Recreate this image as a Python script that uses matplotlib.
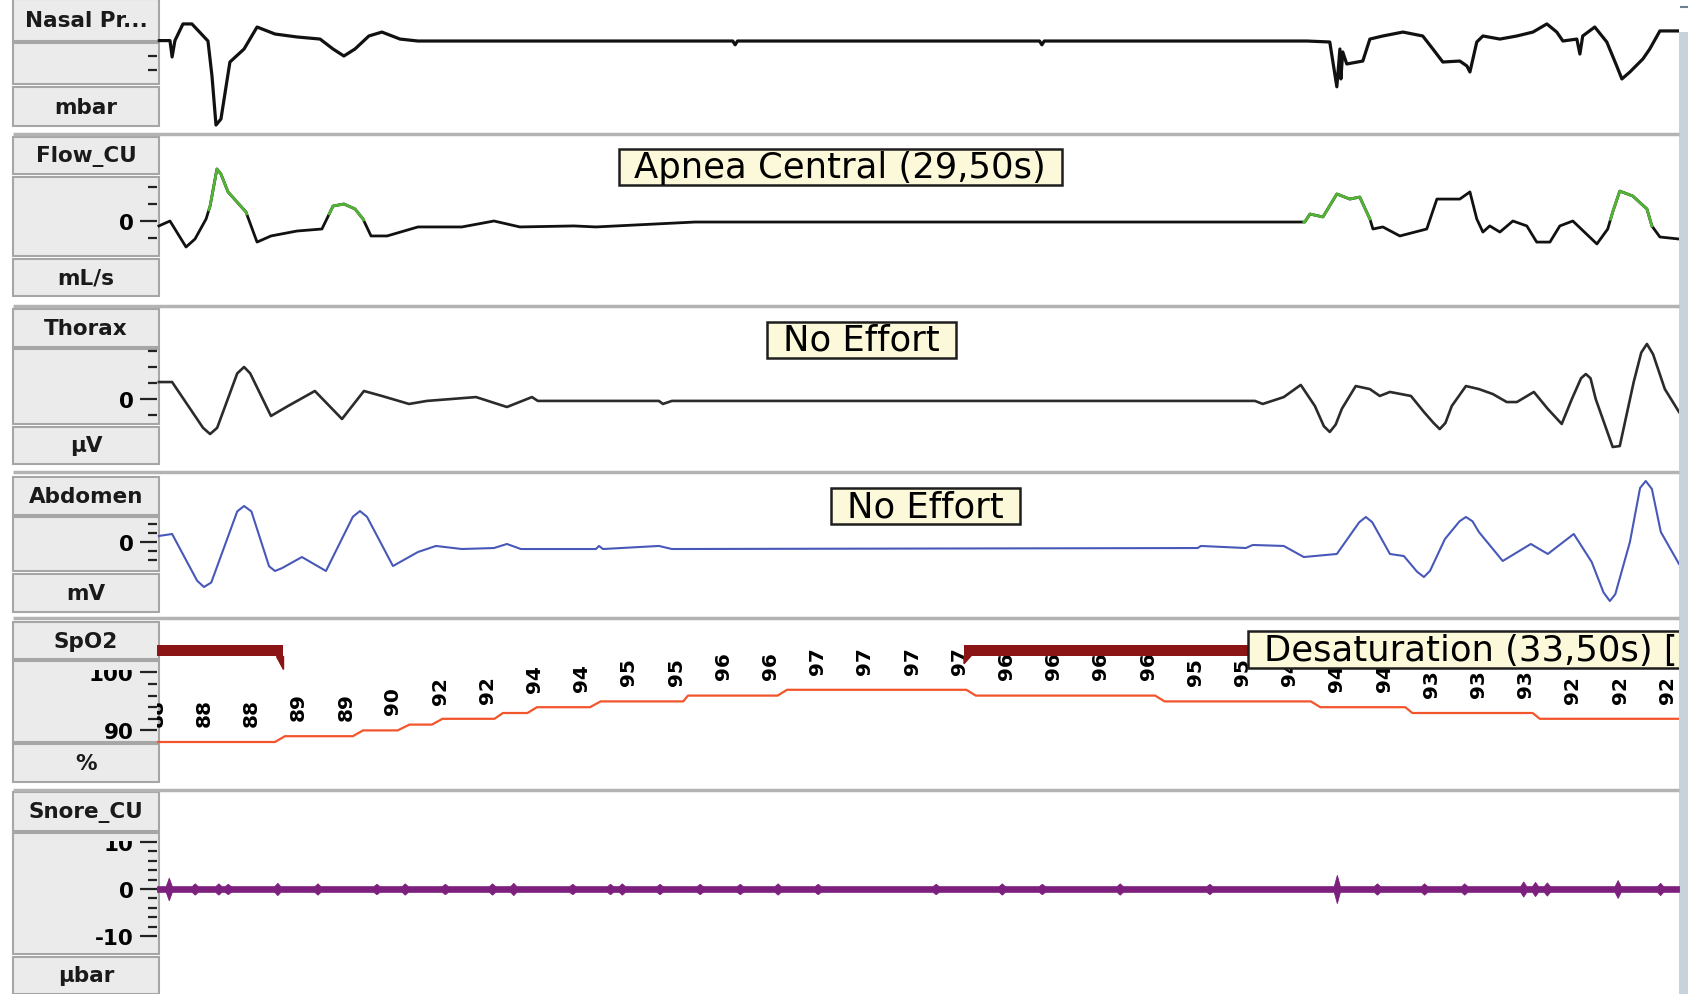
import numpy as np
import matplotlib
matplotlib.use('Agg')
import matplotlib.pyplot as plt
from matplotlib.patches import Rectangle
from matplotlib.path import Path
from matplotlib.transforms import Bbox

plt.rcParams['font.family'] = ['DejaVu Sans']

# ---- signal data (time in s inside the 64.5 s page) ----
nasal_t = [0.1, 0.55, 0.64, 0.76, 1.1, 1.48, 2.16, 2.33, 2.5, 2.71, 3.09, 3.69, 4.24, 5.0, 5.93,
           6.91, 7.46, 7.92, 8.39, 8.98, 9.53, 10.3, 11.06, 24.4, 24.5, 24.6, 37.4, 37.5, 37.6, 48.73,
           49.7, 50.0, 50.13, 50.17, 50.25, 50.42, 51.1, 51.4, 51.95, 52.8, 53.64, 54.07, 54.49,
           55.21, 55.51, 55.64, 55.93, 56.19, 56.91, 57.63, 58.31, 58.9, 59.32, 59.58, 60.17,
           60.3, 60.42, 60.93, 61.44, 61.86, 62.08, 62.42, 62.97, 63.26, 63.69, 64.5]
nasal_v = [0.1, 0.1, -1.07, 0.1, 1.29, 1.29, 0.07, -2.43, -5.93, -5.5, -1.43, -0.5, 1.07, 0.57, 0.36,
           0.21, -0.5, -1.0, -0.5, 0.43, 0.71, 0.21, 0.07, 0.07, -0.2, 0.07, 0.07, -0.2, 0.07, 0.07,
           0.0, -3.2, -0.5, -2.64, -0.71, -1.57, -1.36, 0.21, 0.43, 0.71, 0.43, -0.5, -1.43,
           -1.36, -1.71, -2.14, 0.0, 0.43, 0.21, 0.43, 0.71, 1.29, 0.71, 0.07, 0.21,
           -0.86, 0.43, 1.07, 0.0, -1.71, -2.64, -2.14, -1.21, -0.5, 0.79, 0.79]

flow_t = [0.08, 0.55, 1.23, 1.61, 2.08, 2.25, 2.54, 2.71, 3.01, 3.77,
          4.24, 4.83, 5.93, 6.99, 7.46, 7.92, 8.39, 8.73, 9.07, 9.75,
          11.06, 12.92, 14.28, 15.38, 17.67, 18.6, 22.8, 48.64, 48.86, 49.41,
          50.0, 50.55, 50.97, 51.4, 51.53, 51.95, 52.67, 53.81, 54.24, 55.21,
          55.64, 55.93, 56.19, 56.48, 56.91, 57.46, 58.05, 58.47, 59.03, 59.45,
          60.0, 61.02, 61.48, 61.69, 61.99, 62.54, 63.14, 63.35, 63.69, 64.5]
flow_v = [-0.29, 0, -1.53, -1.06, 0.12, 0.88, 3.06, 2.76, 1.71, 0.53,
          -1.24, -0.88, -0.59, -0.47, 0.88, 1.0, 0.71, 0.12, -0.88, -0.88,
          -0.35, -0.35, 0, -0.35, -0.29, -0.35, -0.06, -0.06, 0.41, 0.24,
          1.59, 1.29, 1.41, 0.12, -0.47, -0.35, -0.88, -0.47, 1.29, 1.29,
          1.71, 0.12, -0.65, -0.29, -0.65, 0, -0.29, -1.24, -1.24, -0.29,
          0, -1.35, -0.47, 0.53, 1.76, 1.47, 0.71, -0.29, -0.94, -1.06]
# breaths scored in green
flow_breath_start = [2.2, 7.3, 48.6, 61.6]
flow_breath_end = [3.8, 8.75, 51.4, 63.35]

thorax_t = [0.08, 0.64, 1.95, 2.25, 2.55, 3.4, 3.69, 3.95, 4.83, 5.55,
            6.69, 7.84, 8.77, 9.53, 10.68, 11.44, 13.52, 14.83, 15.89, 16.14,
            21.27, 21.44, 21.82, 46.53, 46.86, 47.75, 48.47, 49.07, 49.45, 49.7,
            49.95, 50.21, 50.8, 51.4, 51.82, 52.25, 53.14, 53.69, 54.1, 54.36,
            54.6, 54.87, 55.47, 56.02, 56.61, 57.2, 57.63, 58.35, 58.94, 59.53,
            59.96, 60.35, 60.55, 60.75, 60.97, 61.69, 61.99, 62.58, 62.9, 63.14,
            63.4, 63.9, 64.5]
thorax_v = [1.06, 1.06, -1.8, -2.19, -1.8, 1.6, 2.0, 1.6, -1.06, -0.44,
            0.5, -1.25, 0.5, 0.19, -0.31, -0.12, 0.12, -0.5, 0.12, -0.12,
            -0.12, -0.31, -0.12, -0.12, -0.31, 0.12, 0.88, -0.44, -1.7, -2.06,
            -1.6, -0.62, 0.81, 0.62, 0.19, 0.44, 0.19, -0.81, -1.5, -1.88,
            -1.5, -0.44, 0.81, 0.62, 0.31, -0.19, -0.19, 0.44, -0.62, -1.56,
            0, 1.3, 1.56, 1.3, 0, -3.0, -2.94, 1.06, 2.9, 3.44,
            2.8, 0.62, -0.81]

abdomen_t = [0.08, 0.64, 1.7, 1.99, 2.3, 3.4, 3.69, 4.0, 4.75, 5.0,
             5.3, 6.14, 7.16, 8.3, 8.6, 8.9, 10.0, 11.06, 11.82, 12.92,
             14.28, 14.83, 15.42, 18.6, 18.73, 18.9, 21.27, 21.82, 44.1, 44.24,
             46.14, 46.44, 47.75, 48.6, 50.0, 50.95, 51.23, 51.5, 52.25, 52.84,
             53.4, 53.69, 53.95, 54.58, 55.2, 55.47, 55.75, 56.02, 57.03, 58.22,
             58.94, 60.04, 60.8, 61.3, 61.57, 61.8, 62.42, 62.85, 63.09, 63.35,
             63.73, 64.5]
abdomen_v = [0.67, 0.89, -4.3, -5.0, -4.5, 3.4, 4.0, 3.4, -2.7, -3.22,
             -2.9, -1.67, -3.22, 2.8, 3.44, 2.8, -2.67, -1.11, -0.44, -0.78,
             -0.67, -0.22, -0.78, -0.78, -0.44, -0.78, -0.44, -0.78, -0.67, -0.44,
             -0.67, -0.33, -0.44, -1.67, -1.33, 2.2, 2.78, 2.2, -1.33, -1.56,
             -3.3, -3.89, -3.2, 0.33, 2.3, 2.78, 2.3, 1.11, -2.11, -0.22,
             -1.33, 0.89, -2.22, -5.6, -6.56, -5.8, 0, 6.0, 6.78, 5.9,
             1.11, -2.44]

spo2_start = [0, 5.42, 8.73, 10.7, 12.1, 14.66, 16.1, 18.8, 22.5, 26.7, 34.7, 42.7, 49.3, 53.2, 58.6]
spo2_end = [5.0, 8.3, 10.2, 11.65, 14.3, 15.7, 18.35, 22.3, 26.3, 34.3, 42.3, 48.9, 52.9, 58.3, 64.5]
spo2_level = [88, 89, 90, 91, 92, 93, 94, 95, 96, 97, 96, 95, 94, 93, 92]
# numeric readout printed every 2 s
spo2_readout = [88, 88, 88, 89, 89, 90, 92, 92, 94, 94, 95, 95, 96, 96, 97, 97, 97,
                97, 96, 96, 96, 96, 95, 95, 94, 94, 94, 93, 93, 93, 92, 92, 92]
readout_t = np.arange(len(spo2_readout)) * 2.0
desat_start = [-20.0, 34.2]
desat_end = [5.34, 67.7]

snore_spike_t = [0.5, 1.6, 2.6, 3.0, 5.1, 6.8, 9.3, 10.5, 12.2, 14.2, 15.1, 17.6, 19.2, 19.7,
                 21.3, 23.0, 24.7, 26.3, 28.0, 33.0, 35.8, 37.5, 40.8, 44.6, 50.0, 51.7, 53.7,
                 55.4, 57.9, 58.4, 58.9, 61.9, 63.7]
snore_spike_amp = [2.4, 1.2, 1.2, 1.1, 1.3, 1.2, 1.1, 1.2, 1.1, 1.2, 1.3, 1.1, 1.1, 1.2,
                   1.1, 1.1, 1.1, 1.2, 1.1, 1.1, 1.2, 1.1, 1.2, 1.1, 3.0, 1.2, 1.2,
                   1.2, 1.6, 1.5, 1.4, 1.9, 1.3]
snore_base = 0.6

names = ['Nasal Pr...', 'Flow_CU', 'Thorax', 'Abdomen', 'SpO2', 'Snore_CU']
units = ['mbar', 'mL/s', 'µV', 'mV', '%', 'µbar']

# ---- screen layout (pixels) ----
W, H = 1688, 995
PANEL_L, PANEL_R = 13, 159
TRACE_L, TRACE_R = 157, 1679
T_END = 64.5
band_top = [0, 135, 307, 473, 619, 791]
band_bot = [135, 307, 473, 619, 791, 995]
name_box = [(0, 42), (138, 175), (310, 348), (478, 516), (623, 660), (793, 832)]
mid_box = [(44, 85), (178, 257), (350, 425), (518, 572), (662, 743), (834, 955)]
unit_box = [(88, 127), (260, 297), (428, 465), (575, 613), (745, 783), (958, 995)]
label_clip_top = [44, 178, 350, 518, 671, 842]
zero_px = [43, 222, 400, 543, 743 + 88 * 5.8, 890]
px_per_unit = [14, 17, 16, 9, 5.8, 4.7]
major_ticks = [[], [0], [0], [0], [90, 100], [-10, 0, 10]]
minor_ticks = [[-1, -2], [2, 1, -1], [3, 2, 1, -1], [2, 1, -1, -2],
               [92, 94, 96, 98], [-8, -6, -4, -2, 2, 4, 6, 8]]

fig = plt.figure(figsize=(W / 100, H / 100), dpi=100)
fig.patch.set_facecolor('white')

bg = fig.add_axes([0, 0, 1, 1])
bg.set_xlim(0, W)
bg.set_ylim(H, 0)
bg.axis('off')

for boxes in (name_box, mid_box, unit_box):
    for y0, y1 in boxes:
        bg.add_patch(Rectangle((PANEL_L, y0), PANEL_R - PANEL_L, y1 - y0,
                               fc='#ebebeb', ec='#a6a6a6', lw=1.5))
for i in range(6):
    bg.text((PANEL_L + PANEL_R) / 2, sum(name_box[i]) / 2, names[i], ha='center', va='center',
            fontsize=15.5, fontweight='bold', color='#1a1a1a')
    bg.text((PANEL_L + PANEL_R) / 2, sum(unit_box[i]) / 2, units[i], ha='center', va='center',
            fontsize=15.5, fontweight='bold', color='#1a1a1a')
bg.hlines(band_bot[:-1], PANEL_L, TRACE_R, colors='#b3b3b3', lw=2.5)
bg.add_patch(Rectangle((TRACE_R, 33), W - TRACE_R, H - 33, fc='#c8d2da', ec='none'))
bg.plot([1681, 1687], [8, 8], color='#6a7f8f', lw=1.5)

axes = []
for i in range(6):
    top, bot = band_top[i], band_bot[i]
    ax = fig.add_axes([TRACE_L / W, 1 - bot / H, (TRACE_R - TRACE_L) / W, (bot - top) / H])
    ax.set_xlim(0, T_END)
    ax.set_ylim((zero_px[i] - bot) / px_per_unit[i], (zero_px[i] - top) / px_per_unit[i])
    ax.patch.set_visible(False)
    for s in ax.spines.values():
        s.set_visible(False)
    ax.set_xticks([])
    ax.set_yticks(major_ticks[i], labels=[str(m) for m in major_ticks[i]])
    ax.set_yticks(minor_ticks[i], minor=True)
    ax.tick_params(axis='y', which='major', length=12, width=1.6, pad=5,
                   labelsize=15.5, color='#222222')
    ax.tick_params(axis='y', which='minor', length=6.5, width=1.6, color='#222222')
    clip = Bbox.from_extents(PANEL_L, H - mid_box[i][1], PANEL_R, H - label_clip_top[i])
    for lbl in ax.get_yticklabels():
        lbl.set_fontweight('bold')
        lbl.set_clip_box(clip)
        lbl.set_clip_on(True)
    axes.append(ax)


def make_box(pad_l=0.45, pad_r=0.45, pad_y=0.04):
    def box(x0, y0, width, height, mutation_size):
        l, r, v = pad_l * mutation_size, pad_r * mutation_size, pad_y * mutation_size
        return Path([(x0 - l, y0 - v), (x0 + width + r, y0 - v),
                     (x0 + width + r, y0 + height + v), (x0 - l, y0 + height + v),
                     (x0 - l, y0 - v)], closed=True)
    return box


note_style = dict(boxstyle=make_box(), fc='#fcf8da', ec='#1e1e1e', lw=1.8)
desat_style = dict(boxstyle=make_box(0.45, 2.0), fc='#fcf8da', ec='#1e1e1e', lw=1.8)

# Nasal pressure
axes[0].plot(nasal_t, nasal_v, color='#111111', lw=2.3)

# Flow with scored breaths in green
axes[1].plot(flow_t, flow_v, color='#111111', lw=2.0)
for a, b in zip(flow_breath_start, flow_breath_end):
    seg_t = [a] + [t for t in flow_t if a < t < b] + [b]
    axes[1].plot(seg_t, np.interp(seg_t, flow_t, flow_v), color='#52b334', lw=2.0)
axes[1].text(28.96, 3.18, 'Apnea Central (29,50s)', ha='center', va='center',
             fontsize=25.5, bbox=note_style, zorder=5)

# Thorax / Abdomen
axes[2].plot(thorax_t, thorax_v, color='#2b2b2b', lw=1.9)
axes[2].text(29.85, 3.69, 'No Effort', ha='center', va='center', fontsize=25.5,
             bbox=note_style, zorder=5)
axes[3].plot(abdomen_t, abdomen_v, color='#4858b8', lw=1.5)
axes[3].text(32.58, 4.0, 'No Effort', ha='center', va='center', fontsize=25.5,
             bbox=note_style, zorder=5)

# SpO2
ax5 = axes[4]
step_x, step_y = [], []
for s, e, l in zip(spo2_start, spo2_end, spo2_level):
    step_x += [s, e]
    step_y += [l, l]
ax5.plot(step_x, step_y, color='#f2552c', lw=1.6)
for t, r in zip(readout_t, spo2_readout):
    y = np.interp(t, step_x, step_y) + 2.8
    ax5.text(t, y, str(r), rotation=90, ha='center', va='bottom', fontsize=14.5,
             fontweight='bold', clip_on=True, zorder=2)
for s, e in zip(desat_start, desat_end):
    ax5.broken_barh([(s, e - s)], (102.85, 1.87), facecolors='#8b1414', zorder=3)
ax5.fill([desat_end[0] - 0.3, desat_end[0], desat_end[0]], [102.85, 102.85, 100.6],
         color='#8b1414', zorder=3)
ax5.fill([desat_start[1], desat_start[1] + 0.3, desat_start[1]], [102.85, 102.85, 101.5],
         color='#8b1414', zorder=3)
ax5.text(46.92, 103.9, 'Desaturation (33,50s) [', ha='left', va='center', fontsize=25.5,
         bbox=desat_style, zorder=5, clip_on=True)

# Snore envelope
w = 0.13
env_t, env_a = [0.0], [snore_base]
for t, a in sorted(zip(snore_spike_t, snore_spike_amp)):
    env_t += [t - w, t, t + w]
    env_a += [snore_base, a, snore_base]
env_t.append(T_END)
env_a.append(snore_base)
env_a = np.array(env_a)
axes[5].fill_between(env_t, -env_a, env_a, color='#7d1f7d', lw=0.6)

fig.savefig('out.png', dpi=100, facecolor='white')
